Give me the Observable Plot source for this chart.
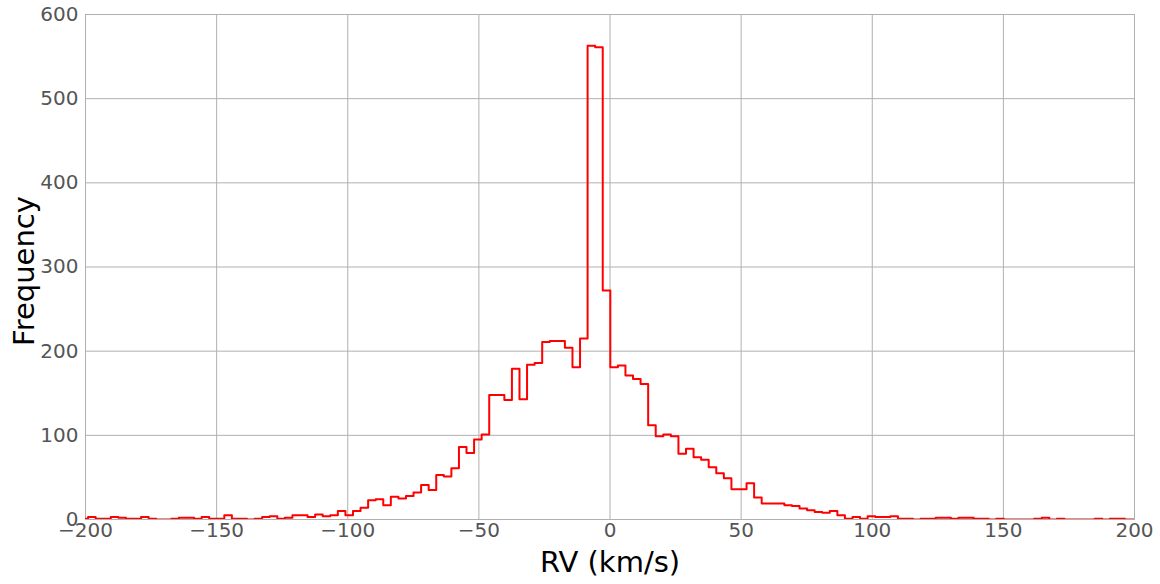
<!DOCTYPE html>
<html>
<head>
<meta charset="utf-8">
<script src="https://cdn.jsdelivr.net/npm/d3@7"></script>
<script src="https://cdn.jsdelivr.net/npm/@observablehq/plot@0.6"></script>
<style>
  html, body { margin: 0; padding: 0; background: #fff; }
  #chart svg { display: block; font-family: "DejaVu Sans", sans-serif; }
</style>
</head>
<body>
<div id="chart"></div>
<script>
// Histogram (step outline) of radial velocities
const binEdgeStart = -201.9;   // left edge of first bin (km/s)
const binWidth = 2.886;        // bin width (km/s)
const counts = [
  1, 3, 1, 1, 3, 2, 1, 1, 3, 1,
  0, 0, 1, 2, 2, 1, 3, 1, 1, 5,
  1, 1, 0, 1, 3, 4, 1, 2, 5, 5,
  3, 6, 4, 5, 10, 5, 10, 14, 23, 24,
  17, 27, 25, 28, 32, 41, 35, 53, 51, 61,
  86, 79, 95, 101, 148, 148, 142, 179, 143, 184,
  186, 211, 212, 212, 204, 181, 215, 563, 561, 272,
  181, 183, 171, 167, 161, 112, 99, 101, 99, 78,
  84, 74, 71, 62, 55, 49, 36, 36, 43, 26,
  19, 19, 19, 17, 16, 13, 11, 9, 8, 10,
  5, 1, 3, 1, 4, 3, 3, 4, 1, 1,
  0, 1, 1, 2, 2, 1, 2, 2, 1, 1,
  0, 1, 0, 0, 0, 0, 1, 2, 0, 1,
  0, 0, 0, 0, 1, 0, 1, 1, 0, 0
];
const xTicks = [-200, -150, -100, -50, 0, 50, 100, 150, 200];
const yTicks = [0, 100, 200, 300, 400, 500, 600];
const xLabel = "RV (km/s)";
const yLabel = "Frequency";

// step outline points (matplotlib histtype="step")
const edges = counts.map((_, i) => binEdgeStart + i * binWidth);
const lastEdge = binEdgeStart + counts.length * binWidth;
const stepPts = [{x: edges[0], y: 0}]
  .concat(counts.map((c, i) => ({x: edges[i], y: c})))
  .concat([{x: lastEdge, y: counts[counts.length - 1]}, {x: lastEdge, y: 0}]);

const fmt = d => d < 0 ? "\u2212" + Math.abs(d) : String(d);
const gridColor = "#b0b0b0";
const tickColor = "#555555";

const chart = Plot.plot({
  width: 1160,
  height: 584,
  marginLeft: 85,
  marginRight: 26,
  marginTop: 14,
  marginBottom: 65,
  style: {fontFamily: "DejaVu Sans, sans-serif", background: "#fff"},
  x: {domain: [-200, 200]},
  y: {domain: [0, 600]},
  marks: [
    Plot.gridX(xTicks, {stroke: gridColor, strokeOpacity: 1, strokeWidth: 1}),
    Plot.gridY(yTicks, {stroke: gridColor, strokeOpacity: 1, strokeWidth: 1}),
    Plot.frame({stroke: gridColor, strokeWidth: 1}),
    Plot.line(stepPts, {x: "x", y: "y", curve: "step-after", stroke: "red", strokeWidth: 2, clip: true}),
    Plot.axisX(xTicks, {tickSize: 0, tickPadding: 3, tickFormat: fmt, fontSize: 20, fill: tickColor, label: null}),
    Plot.axisY(yTicks, {tickSize: 0, tickPadding: 7, tickFormat: fmt, fontSize: 20, fill: tickColor, label: null}),
    Plot.text([xLabel], {text: d => d, frameAnchor: "bottom", dy: 43, fontSize: 29, fill: "#000", lineAnchor: "middle"}),
    Plot.text([yLabel], {text: d => d, frameAnchor: "left", textAnchor: "middle", dx: -61, dy: 4, rotate: -90, fontSize: 29, fill: "#000", lineAnchor: "middle"})
  ]
});
document.getElementById("chart").appendChild(chart);
</script>
</body>
</html>
